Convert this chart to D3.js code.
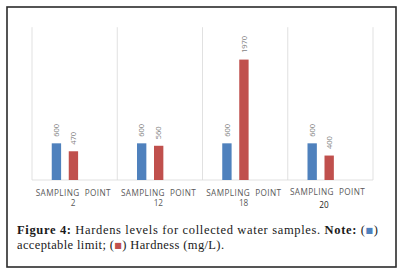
<!DOCTYPE html>
<html><head><meta charset="utf-8">
<script src="https://cdn.jsdelivr.net/npm/d3@7"></script>
<style>body{margin:0;background:#fff}svg{display:block}</style>
</head><body><svg id="c" width="405" height="274"></svg>
<script>
const categories = ["SAMPLING POINT 2","SAMPLING POINT 12","SAMPLING POINT 18","SAMPLING POINT 20"];
const catLine1 = ["SAMPLING  POINT","SAMPLING  POINT","SAMPLING  POINT","SAMPLING  POINT"];
const catLine2 = ["2","12","18","20"];
const acceptableLimit = [600, 600, 600, 600];
const hardness = [470, 560, 1970, 400];
const seriesNames = ["acceptable limit","Hardness (mg/L)","(empty)"];
const seriesColors = ["#4F81BD","#C0504D","none"];

const svg = d3.select("#c");
svg.append("rect").attr("x",7).attr("y",7).attr("width",389).attr("height",260)
  .attr("fill","#fff").attr("stroke","#2b2b2b").attr("stroke-width",1.6);

const x0 = d3.scaleBand().domain(categories).range([32,373]).padding(0);
const y = d3.scaleLinear().domain([0,2500]).range([180,27.2]);
const x1 = d3.scaleBand().domain(seriesNames).range([-25.5,25.5]).paddingInner(0.45).paddingOuter(0.225);

// vertical category dividers
const divs = categories.map(c=>x0(c)).concat([x0.range()[1]]);
svg.append("g").selectAll("line").data(divs).join("line")
  .attr("x1",d=>d).attr("x2",d=>d).attr("y1",y(2500)).attr("y2",y(0))
  .attr("stroke","#d9d9d9").attr("stroke-width",0.8);
svg.append("line").attr("x1",32).attr("x2",373).attr("y1",y(0)).attr("y2",y(0))
  .attr("stroke","#d9d9d9").attr("stroke-width",0.8);

const data = [];
categories.forEach((c,i)=>{
  data.push({c, s:seriesNames[0], v:acceptableLimit[i], col:seriesColors[0]});
  data.push({c, s:seriesNames[1], v:hardness[i], col:seriesColors[1]});
});
const cx = d => x0(d.c) + x0.bandwidth()/2 + x1(d.s) - 1.2;
svg.append("g").selectAll("rect").data(data).join("rect")
  .attr("x",cx).attr("width",x1.bandwidth())
  .attr("y",d=>y(d.v)).attr("height",d=>y(0)-y(d.v))
  .attr("fill",d=>d.col);
svg.append("g").selectAll("text").data(data).join("text")
  .attr("transform",d=>`translate(${cx(d)+x1.bandwidth()/2+2.6},${y(d.v)-6.5}) rotate(-90)`)
  .attr("font-family","Open Sans, DejaVu Sans, sans-serif").attr("font-size",7.5)
  .attr("fill","#7f7f7f").text(d=>d.v);

// category labels
const lab = svg.append("g").attr("font-family","Open Sans, DejaVu Sans, sans-serif").attr("fill","#595959");
categories.forEach((c,i)=>{
  const mid = x0(c)+x0.bandwidth()/2 - (i===3?3:1.5);
  lab.append("text").attr("x",mid).attr("y",i===3?194.5:195.5).attr("text-anchor","middle")
    .attr("font-size",8.2).attr("textLength",75).attr("lengthAdjust","spacing")
    .style("white-space","pre").text(catLine1[i]);
  lab.append("text").attr("x",i===3?324:mid).attr("y",i===3?207.5:205.5).attr("text-anchor","middle")
    .attr("font-size",8.2).attr("fill",i===3?"#222":"#595959").text(catLine2[i]);
});

// caption
const cap = svg.append("g").attr("font-family","Liberation Serif, serif").attr("font-size",12.5).attr("fill","#1a1a1a");
const t1 = cap.append("text").attr("x",17).attr("y",234).attr("textLength",361).attr("lengthAdjust","spacing");
t1.append("tspan").attr("font-weight","bold").text("Figure 4:");
t1.append("tspan").text(" Hardens levels for collected water samples. ");
t1.append("tspan").attr("font-weight","bold").text("Note:");
t1.append("tspan").text(" (");
t1.append("tspan").attr("fill",seriesColors[0]).attr("font-size",8).attr("font-family","DejaVu Sans").attr("dy",-1.5).text("■");
t1.append("tspan").attr("dy",1.5).text(")");
const t2 = cap.append("text").attr("x",17).attr("y",249).attr("textLength",207).attr("lengthAdjust","spacing");
t2.append("tspan").text("acceptable limit; (");
t2.append("tspan").attr("fill",seriesColors[1]).attr("font-size",8).attr("font-family","DejaVu Sans").attr("dy",-1.5).text("■");
t2.append("tspan").attr("dy",1.5).text(") Hardness (mg/L).");
</script></body></html>
